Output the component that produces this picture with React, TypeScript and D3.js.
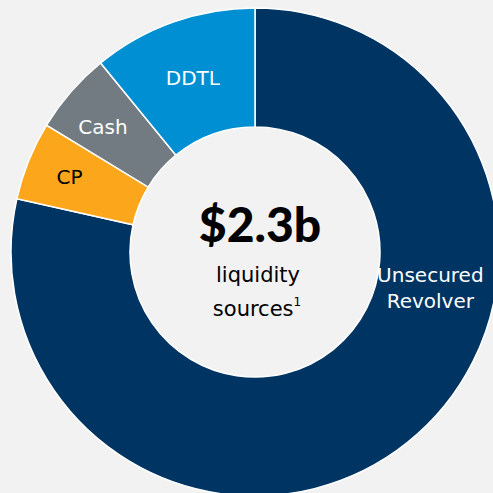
import React, { useEffect, useRef } from 'react';
import * as d3 from 'd3';

// shares of total liquidity (%), clockwise from 12 o'clock
const sources = ['Unsecured Revolver', 'CP', 'Cash', 'DDTL'];
const shares = [78.5, 5.2, 5.4, 10.9];
const colors = ['#003563', '#fca61c', '#737b82', '#008fd3'];
const labelColors = ['#ffffff', '#000000', '#ffffff', '#ffffff'];

const totalLabel = '$2.3b';
const subLines = ['liquidity', 'sources'];

const App = () => {
  const svgRef = useRef<SVGSVGElement>(null);

  useEffect(() => {
    const width = 493;
    const height = 493;
    const cx = 255;
    const cy = 252;
    const outerR = 244;
    const innerR = 125;

    const svg = d3.select(svgRef.current);
    svg.selectAll('*').remove();
    svg.attr('width', width).attr('height', height);

    svg.append('rect')
      .attr('width', width)
      .attr('height', height)
      .attr('fill', '#f2f2f2');

    const g = svg.append('g').attr('transform', `translate(${cx},${cy})`);

    const data = sources.map((name, i) => ({ name, value: shares[i], i }));
    const pie = d3.pie<any>().sort(null).value(d => d.value);
    const arcs = pie(data);

    const arc = d3.arc<any>().innerRadius(innerR).outerRadius(outerR);

    g.selectAll('path.slice')
      .data(arcs)
      .enter()
      .append('path')
      .attr('class', 'slice')
      .attr('d', arc)
      .attr('fill', d => colors[d.data.i])
      .attr('stroke', '#ffffff')
      .attr('stroke-width', 1.5);

    // label placement: radius, and angle overrides (degrees)
    const labelR: Record<string, number> = {
      'Unsecured Revolver': 179,
      CP: 200,
      Cash: 197,
      DDTL: 185,
    };
    const labelAngle: Record<string, number> = {
      'Unsecured Revolver': 101.6,
      Cash: 309.5,
    };

    arcs.forEach(d => {
      const name = d.data.name;
      const r = labelR[name];
      const a = labelAngle[name] != null
        ? (labelAngle[name] * Math.PI) / 180
        : (d.startAngle + d.endAngle) / 2;
      const lArc = d3.arc<any>().innerRadius(r).outerRadius(r);
      const [x, y] = lArc.centroid({ startAngle: a, endAngle: a });
      const words = name === 'Unsecured Revolver' ? ['Unsecured', 'Revolver'] : [name];
      const t = g.append('text')
        .attr('x', x)
        .attr('y', y)
        .attr('text-anchor', 'middle')
        .attr('font-family', 'DejaVu Sans, sans-serif')
        .attr('font-size', 20)
        .attr('fill', labelColors[d.data.i]);
      words.forEach((w, k) => {
        t.append('tspan')
          .attr('x', x)
          .attr('dy', k === 0 ? (words.length === 1 ? 7 : -6) : 26)
          .text(w);
      });
    });

    // centre text
    g.append('text')
      .attr('x', 5)
      .attr('y', -10)
      .attr('text-anchor', 'middle')
      .attr('font-family', 'Lato, sans-serif')
      .attr('font-weight', 900)
      .attr('font-size', 48)
      .attr('fill', '#000')
      .text(totalLabel);

    g.append('text')
      .attr('x', 3)
      .attr('y', 30)
      .attr('text-anchor', 'middle')
      .attr('font-family', 'DejaVu Sans, sans-serif')
      .attr('font-size', 21)
      .attr('fill', '#000')
      .text(subLines[0]);

    const s = g.append('text')
      .attr('x', 2)
      .attr('y', 64)
      .attr('text-anchor', 'middle')
      .attr('font-family', 'DejaVu Sans, sans-serif')
      .attr('font-size', 21)
      .attr('fill', '#000');
    s.append('tspan').text(subLines[1]);
    s.append('tspan')
      .attr('font-size', 12)
      .attr('dy', -10)
      .text('1');
  }, []);

  return (
    <svg
      ref={svgRef}
      style={{ position: 'absolute', left: 0, top: 0, display: 'block' }}
    ></svg>
  );
};

export default App;
